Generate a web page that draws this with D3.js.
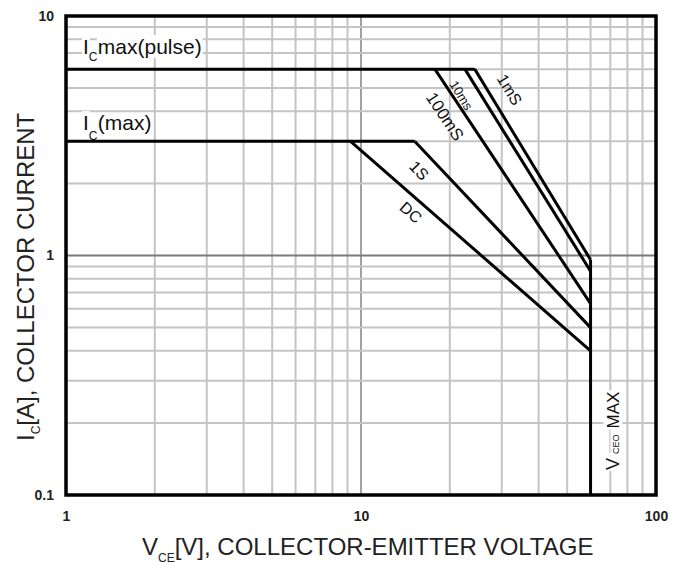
<!DOCTYPE html>
<html>
<head>
<meta charset="utf-8">
<script src="https://cdn.jsdelivr.net/npm/d3@7"></script>
<style>
  body { margin: 0; background: #fff; }
  svg { display: block; font-family: "Liberation Sans", Arial, sans-serif; }
</style>
</head>
<body>
<div id="chart"></div>
<script>
// axis ranges and tick labels
const xDomain = [1, 100];
const yDomain = [0.1, 10];
const xTicks = [1, 10, 100];
const xTickLabels = ['1', '10', '100'];
const yTicks = [0.1, 1, 10];
const yTickLabels = ['0.1', '1', '10'];

// SOA limits
const icPulse = 6;     // Ic max (pulse)
const icMax = 3;       // Ic (max)
const vceoMax = 60;    // Vceo max

// pulse width curves
const soaLabels = ['1mS', '10ms', '100mS', '1S', 'DC'];
const soaStartV = [24.3, 22.5, 17.8, 15.2, 9.2];
const soaStartI = [6, 6, 6, 3, 3];
const soaEndI = [0.96, 0.86, 0.63, 0.5, 0.4];

/* ------------------ drawing ------------------ */
const W = 686, H = 563;
const plotL = 66, plotR = 656, plotT = 16, plotB = 495;

let svg = d3.select('#chart').append('svg')
	.attr('width', W)
	.attr('height', H);

svg.append('rect').attr('width', W).attr('height', H).attr('fill', '#fff');

let x = d3.scaleLog().domain(xDomain).range([plotL, plotR]);
let y = d3.scaleLog().domain(yDomain).range([plotB, plotT]);

const isMajor = v => Math.abs(Math.log10(v) - Math.round(Math.log10(v))) < 1e-9;

// grid
let grid = svg.append('g');
grid.selectAll('line.gx')
	.data(x.ticks().filter(v => v > xDomain[0] && v < xDomain[1]))
	.enter().append('line')
		.attr('x1', d => x(d)).attr('x2', d => x(d))
		.attr('y1', plotT).attr('y2', plotB)
		.attr('stroke', d => isMajor(d) ? '#8a8a8a' : '#c4c4c4')
		.attr('stroke-width', d => isMajor(d) ? 1.6 : 2);
grid.selectAll('line.gy')
	.data(y.ticks().filter(v => v > yDomain[0] && v < yDomain[1]))
	.enter().append('line')
		.attr('y1', d => y(d)).attr('y2', d => y(d))
		.attr('x1', plotL).attr('x2', plotR)
		.attr('stroke', d => isMajor(d) ? '#7a7a7a' : '#c4c4c4')
		.attr('stroke-width', 2);

// text labels with white backgrounds (drawn before curves)
let labels = svg.append('g');

function boxedText(g, parts, xPos, yPos, rotate) {
	// parts: [{text, size, dy}]
	let grp = g.append('g').attr('transform', 'translate(' + xPos + ',' + yPos + ')' + (rotate ? ' rotate(' + rotate + ')' : ''));
	let cx = 0;
	parts.forEach(function(p) {
		let t = grp.append('text')
			.attr('x', cx)
			.attr('y', p.dy || 0)
			.attr('font-size', p.size)
			.attr('fill', '#111')
			.text(p.text);
		let b = t.node().getBBox();
		grp.insert('rect', 'text')
			.attr('x', b.x - 1).attr('y', b.y + (p.trimTop || 0))
			.attr('width', b.width + 2 + (p.gap || 0)).attr('height', b.height - (p.trimTop || 0))
			.attr('fill', '#fff');
		cx += b.width + (p.gap || 0);
	});
	return grp;
}

boxedText(labels, [
	{text: 'I', size: 21},
	{text: 'C', size: 12, dy: 7},
	{text: 'max(pulse)', size: 21}
], 83, 54);

boxedText(labels, [
	{text: 'I', size: 21},
	{text: 'C', size: 12, dy: 10},
	{text: '(max)', size: 21, trimTop: 3}
], 83, 130);

boxedText(labels, [
	{text: 'V', size: 18, gap: 4},
	{text: 'CEO', size: 9, dy: 0, gap: 6},
	{text: 'MAX', size: 17}
], 618.5, 470, -90);

// SOA curves
let line = d3.line().x(d => x(d[0])).y(d => y(d[1]));
let curves = svg.append('g')
	.attr('fill', 'none')
	.attr('stroke', '#000')
	.attr('stroke-width', 3)
	.attr('stroke-linejoin', 'miter');

curves.append('path').attr('d', line([[xDomain[0], icPulse], [soaStartV[0], icPulse]]));
curves.append('path').attr('d', line([[xDomain[0], icMax], [soaStartV[3], icMax]]));
curves.append('path').attr('d', line([[vceoMax, d3.max(soaEndI)], [vceoMax, yDomain[0]]]));
curves.selectAll('path.soa')
	.data(soaLabels)
	.enter().append('path')
		.attr('d', (d, i) => line([[soaStartV[i], soaStartI[i]], [vceoMax, soaEndI[i]]]));

// curve labels, placed along each diagonal (t = fraction, off = perpendicular px)
const labelPlace = [
	{t: 0.16, off: 19, size: 16},
	{t: 0.085, off: -17, size: 13},
	{t: 0.16, off: -18, size: 17},
	{t: 0.095, off: -17, size: 16},
	{t: 0.29, off: -14, size: 16}
];
soaLabels.forEach(function(name, i) {
	let x0 = x(soaStartV[i]), y0 = y(soaStartI[i]);
	let x1 = x(vceoMax), y1 = y(soaEndI[i]);
	let len = Math.hypot(x1 - x0, y1 - y0);
	let ux = (x1 - x0) / len, uy = (y1 - y0) / len;
	let p = labelPlace[i];
	let cx = x0 + ux * len * p.t + uy * p.off;
	let cy = y0 + uy * len * p.t - ux * p.off;
	let ang = Math.atan2(y1 - y0, x1 - x0) * 180 / Math.PI;
	svg.append('text')
		.attr('transform', 'translate(' + cx + ',' + cy + ') rotate(' + ang + ')')
		.attr('text-anchor', 'middle')
		.attr('dominant-baseline', 'central')
		.attr('font-size', p.size)
		.attr('fill', '#111')
		.text(name);
});

// frame
svg.append('rect')
	.attr('x', plotL).attr('y', plotT)
	.attr('width', plotR - plotL).attr('height', plotB - plotT)
	.attr('fill', 'none')
	.attr('stroke', '#000')
	.attr('stroke-width', 3.5);

// axes (tick labels only)
let xAxis = svg.append('g')
	.attr('transform', 'translate(0,' + (plotB + 13) + ')')
	.call(d3.axisBottom(x).tickValues(xTicks).tickSize(0).tickFormat((d, i) => xTickLabels[i]));
xAxis.select('.domain').remove();
xAxis.selectAll('text')
	.attr('font-size', 14).attr('font-weight', 'bold').attr('fill', '#222')
	.attr('font-family', '"Liberation Sans", Arial, sans-serif');

let yAxis = svg.append('g')
	.attr('transform', 'translate(' + (plotL - 9) + ',0)')
	.call(d3.axisLeft(y).tickValues(yTicks).tickSize(0).tickFormat((d, i) => yTickLabels[i]));
yAxis.select('.domain').remove();
yAxis.selectAll('text')
	.attr('font-size', 14).attr('font-weight', 'bold').attr('fill', '#222')
	.attr('font-family', '"Liberation Sans", Arial, sans-serif');

// axis titles
let xt = svg.append('text')
	.attr('x', 142).attr('y', 554.5)
	.attr('font-size', 24).attr('fill', '#222');
xt.append('tspan').text('V');
xt.append('tspan').attr('font-size', 12).attr('dy', 7).text('CE');
xt.append('tspan').attr('dy', -7).text('[V], COLLECTOR-EMITTER VOLTAGE');

let yt = svg.append('text')
	.attr('transform', 'translate(33.5,441) rotate(-90)')
	.attr('font-size', 24).attr('fill', '#222');
yt.append('tspan').text('I');
yt.append('tspan').attr('font-size', 12).attr('dy', 6).text('C');
yt.append('tspan').attr('dy', -6).text('[A], COLLECTOR CURRENT');
</script>
</body>
</html>
